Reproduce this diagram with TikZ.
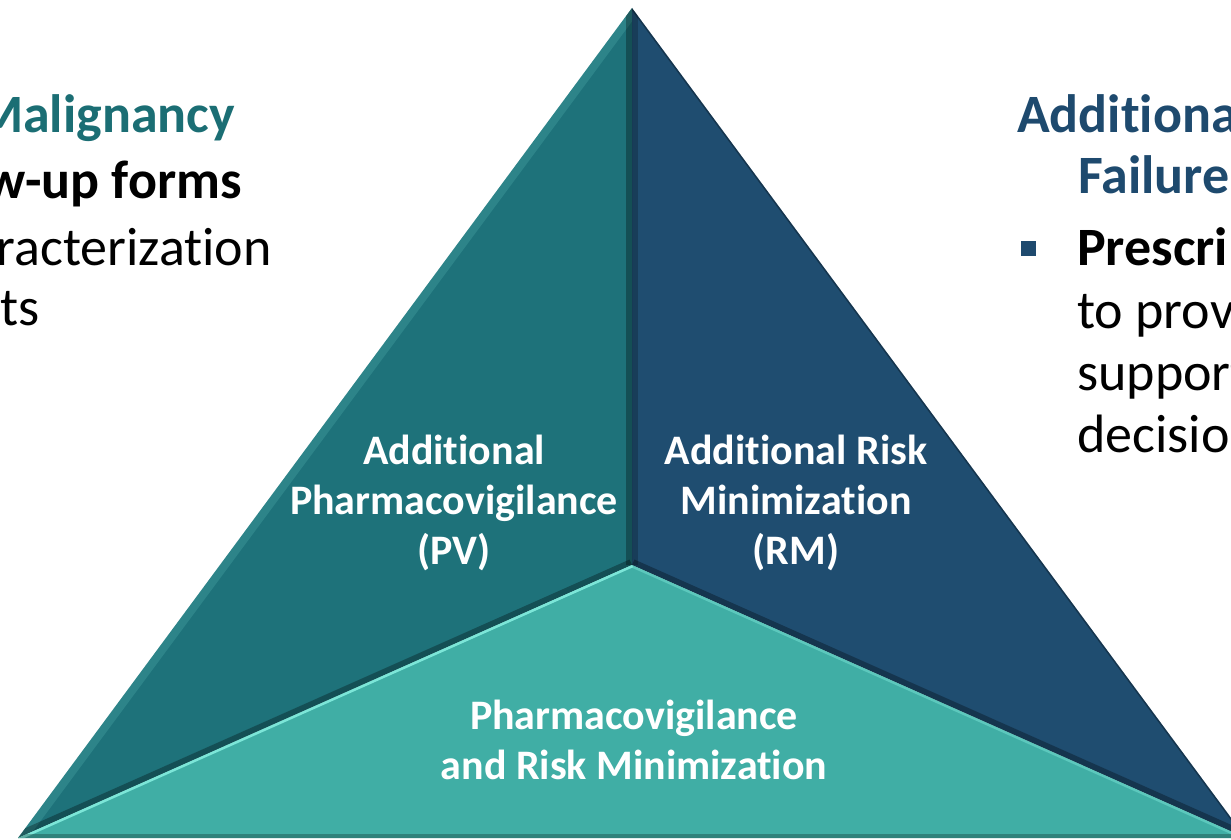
\documentclass[tikz,border=0pt]{standalone}
\usepackage{fontspec}
\setmainfont{Carlito}[Ligatures=NoCommon]
\usetikzlibrary{positioning}
\definecolor{pvface}{RGB}{30,114,122}
\definecolor{rmface}{RGB}{31,77,112}
\definecolor{baseface}{RGB}{64,174,165}
\definecolor{pvtext}{RGB}{27,110,116}
\definecolor{rmtext}{RGB}{30,74,110}
\definecolor{glint}{RGB}{135,240,225}

\begin{document}
\begin{tikzpicture}[
    x=1pt, y=-1pt,
    facelabel/.style={text=white, font=\bfseries\fontsize{42}{50}\selectfont, align=center, inner sep=0pt},
    heading/.style={font=\bfseries\fontsize{54}{62}\selectfont, inner sep=0pt},
    bodytext/.style={font=\fontsize{54}{62}\selectfont, inner sep=0pt},
    bullet/.style={rectangle, fill=rmtext, minimum size=15pt, inner sep=0pt},
    shadowline/.style={line width=12pt, black, opacity=0.3},
    glintline/.style={line width=5pt, glint, opacity=0.85}
]

\useasboundingbox (0,0) rectangle (1231,840);
\clip (0,0) rectangle (1231,840);

% Corners of the pyramid
\coordinate (apex) at (632,8);
\coordinate (left) at (18,838);
\coordinate (right) at (1246,838);
\coordinate (centre) at (632,565);

% Faces
\fill[pvface] (apex) -- (left) -- (centre) -- cycle;
\fill[rmface] (apex) -- (centre) -- (right) -- cycle;
\fill[baseface] (left) -- (centre) -- (right) -- cycle;

% Bevels on the upper faces
\begin{scope}
    \clip (apex) -- (left) -- (centre) -- cycle;
    \draw[line width=16pt, glint, opacity=0.15] (apex) -- (left);
    \draw[shadowline] (centre) -- (apex);
    \draw[shadowline] (left) -- (centre);
\end{scope}
\begin{scope}
    \clip (apex) -- (centre) -- (right) -- cycle;
    \draw[shadowline, opacity=0.2] (apex) -- (centre);
    \draw[shadowline] (centre) -- (right);
    \draw[line width=3pt, black, opacity=0.3] (apex) -- (right);
\end{scope}
\begin{scope}
    \clip (left) -- (centre) -- (right) -- cycle;
    \draw[glintline] (left) -- (centre);
    \draw[glintline, opacity=0.4] (centre) -- (right);
    \fill[black, opacity=0.25] (0,834) rectangle (1231,840);
\end{scope}

% Face labels
\node[facelabel] (pvlabel) at (454,503) {Additional\\Pharmacovigilance\\(PV)};
\node[facelabel] (rmlabel) at (796,503) {Additional Risk\\Minimization\\(RM)};
\node[facelabel] (baselabel) at (634,740) {Pharmacovigilance\\and Risk Minimization};

% Text on the left
\node[heading, text=pvtext, anchor=base east] (pvtitle) at (235,132) {Malignancy};
\node[heading, anchor=base east] (pvforms) at (242,198) {w-up forms};
\node[bodytext, anchor=base east] (pvline1) at (272,265) {racterization};
\node[bodytext, anchor=base east] (pvline2) at (40,325) {ts};

% Text on the right
\node[heading, text=rmtext, anchor=base west] (rmtitle) at (1017,132) {Additional};
\node[heading, text=rmtext, anchor=base west] (rmtitle2) at (1078,193) {Failure};
\node[bullet] (rmbullet) at (1028,248) {};
\node[heading, anchor=base west] (rmpoint) at (1077,265) {Prescrib};
\node[bodytext, anchor=base west] (rmline1) at (1077,328) {to prov};
\node[bodytext, anchor=base west] (rmline2) at (1077,390) {support};
\node[bodytext, anchor=base west] (rmline3) at (1077,452) {decision};

\end{tikzpicture}
\end{document}
